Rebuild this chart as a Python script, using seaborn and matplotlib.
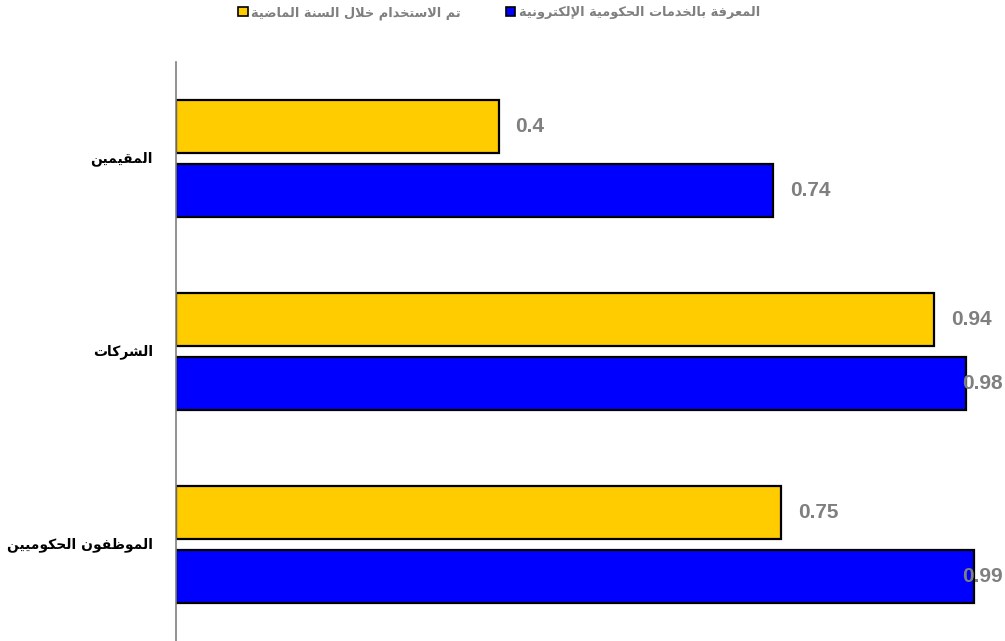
import matplotlib
matplotlib.use("Agg")
import matplotlib.pyplot as plt
import seaborn as sns
import pandas as pd
from matplotlib.patches import Patch

# ---------------- data ----------------
categories = ["المقيمين", "الشركات", "الموظفون الحكوميين"]
series_used = "تم الاستخدام خلال السنة الماضية"
series_known = "المعرفة بالخدمات الحكومية الإلكترونية"
values_used = [0.4, 0.94, 0.75]
values_known = [0.74, 0.98, 0.99]

color_used = "#FFCC00"
color_known = "#0000FF"

# ---------------- minimal Arabic shaping (matplotlib has no complex text layout) ----------------
FORMS = {  # isolated, final, initial, medial
    '\u0627': ('\uFE8D', '\uFE8E', None, None),
    '\u0625': ('\uFE87', '\uFE88', None, None),
    '\u0628': ('\uFE8F', '\uFE90', '\uFE91', '\uFE92'),
    '\u0629': ('\uFE93', '\uFE94', None, None),
    '\u062A': ('\uFE95', '\uFE96', '\uFE97', '\uFE98'),
    '\u062D': ('\uFEA1', '\uFEA2', '\uFEA3', '\uFEA4'),
    '\u062E': ('\uFEA5', '\uFEA6', '\uFEA7', '\uFEA8'),
    '\u062F': ('\uFEA9', '\uFEAA', None, None),
    '\u0631': ('\uFEAD', '\uFEAE', None, None),
    '\u0633': ('\uFEB1', '\uFEB2', '\uFEB3', '\uFEB4'),
    '\u0634': ('\uFEB5', '\uFEB6', '\uFEB7', '\uFEB8'),
    '\u0636': ('\uFEBD', '\uFEBE', '\uFEBF', '\uFEC0'),
    '\u0638': ('\uFEC5', '\uFEC6', '\uFEC7', '\uFEC8'),
    '\u0639': ('\uFEC9', '\uFECA', '\uFECB', '\uFECC'),
    '\u0641': ('\uFED1', '\uFED2', '\uFED3', '\uFED4'),
    '\u0642': ('\uFED5', '\uFED6', '\uFED7', '\uFED8'),
    '\u0643': ('\uFED9', '\uFEDA', '\uFEDB', '\uFEDC'),
    '\u0644': ('\uFEDD', '\uFEDE', '\uFEDF', '\uFEE0'),
    '\u0645': ('\uFEE1', '\uFEE2', '\uFEE3', '\uFEE4'),
    '\u0646': ('\uFEE5', '\uFEE6', '\uFEE7', '\uFEE8'),
    '\u0648': ('\uFEED', '\uFEEE', None, None),
    '\u064A': ('\uFEF1', '\uFEF2', '\uFEF3', '\uFEF4'),
}
LAMALEF = {'\u0622': ('\uFEF5', '\uFEF6'), '\u0623': ('\uFEF7', '\uFEF8'),
           '\u0625': ('\uFEF9', '\uFEFA'), '\u0627': ('\uFEFB', '\uFEFC')}


def shape(text):
    seq = []
    i = 0
    while i < len(text):
        c = text[i]
        if c == '\u0644' and i + 1 < len(text) and text[i + 1] in LAMALEF:
            seq.append(('LA', text[i + 1]))
            i += 2
        else:
            seq.append(c)
            i += 1

    def arabic(x):
        return isinstance(x, tuple) or x in FORMS

    def dual(x):
        return (not isinstance(x, tuple)) and x in FORMS and FORMS[x][2] is not None

    out = []
    for k, x in enumerate(seq):
        prev_c = k > 0 and dual(seq[k - 1]) and arabic(x)
        next_c = k < len(seq) - 1 and dual(x) and arabic(seq[k + 1])
        if isinstance(x, tuple):
            iso, fin = LAMALEF[x[1]]
            out.append(fin if prev_c else iso)
        elif x in FORMS:
            f = FORMS[x]
            if prev_c and next_c:
                out.append(f[3])
            elif prev_c:
                out.append(f[1])
            elif next_c:
                out.append(f[2])
            else:
                out.append(f[0])
        else:
            out.append(x)
    return "".join(reversed(out))


# ---------------- dataframe ----------------
df = pd.DataFrame({
    "category": categories * 2,
    "value": values_used + values_known,
    "series": [series_used] * len(categories) + [series_known] * len(categories),
})

sns.set_theme(style="white")
plt.rcParams["font.family"] = ["DejaVu Sans"]

fig = plt.figure(figsize=(10.05, 6.41), dpi=100)
ax = fig.add_axes([176 / 1005, 0.0, 1 - 176 / 1005, 1 - 62 / 641])

sns.barplot(
    data=df, y="category", x="value", hue="series", orient="h",
    order=categories, hue_order=[series_used, series_known],
    palette={series_used: color_used, series_known: color_known},
    width=0.672, gap=0.185, edgecolor="black", linewidth=1.6,
    saturation=1, legend=False, ax=ax, errorbar=None,
)

xmax = 829 / 806.5
ax.set_xlim(0, xmax)
ax.set_ylim(len(categories) - 0.5, -0.5)
ax.set_xlabel("")
ax.set_ylabel("")
ax.set_xticks([])
ax.set_yticks(range(len(categories)))
ax.set_yticklabels([shape(c) for c in categories], fontsize=10,
                   fontweight="bold", color="black")
ax.tick_params(axis="y", length=0, pad=16.5)
for lbl in ax.get_yticklabels():
    lbl.set_verticalalignment("center")
for s in ["top", "right", "bottom"]:
    ax.spines[s].set_visible(False)
ax.spines["left"].set_color("#7f7f7f")
ax.spines["left"].set_linewidth(1.2)

# value labels
pad = 0.021
lab_w = 0.052
edge = (1003 - 176) / 806.5
for cont in ax.containers:
    for bar in cont:
        v = bar.get_width()
        yc = bar.get_y() + bar.get_height() / 2
        if v + pad + lab_w <= edge:
            x, ha = v + pad, "left"
        else:
            x, ha = edge, "right"
        ax.text(x, yc, f"{v:g}", ha=ha, va="center",
                fontsize=15, fontweight="bold", color="#7f7f7f",
                family=["Liberation Sans", "DejaVu Sans"], clip_on=False)

# legend
handles = [Patch(facecolor=color_used, edgecolor="black", linewidth=1.2),
           Patch(facecolor=color_known, edgecolor="black", linewidth=1.2)]
labels = [shape(series_used), shape(series_known)]
leg = fig.legend(handles, labels, loc="center", bbox_to_anchor=(0.497, 1 - 13 / 641),
                 ncol=2, frameon=False, handlelength=0.7, handleheight=0.7,
                 handletextpad=0.3, columnspacing=3.5,
                 prop={"size": 9.3, "weight": "bold"})
for t in leg.get_texts():
    t.set_color("#7f7f7f")

fig.savefig("out.png", dpi=100)
